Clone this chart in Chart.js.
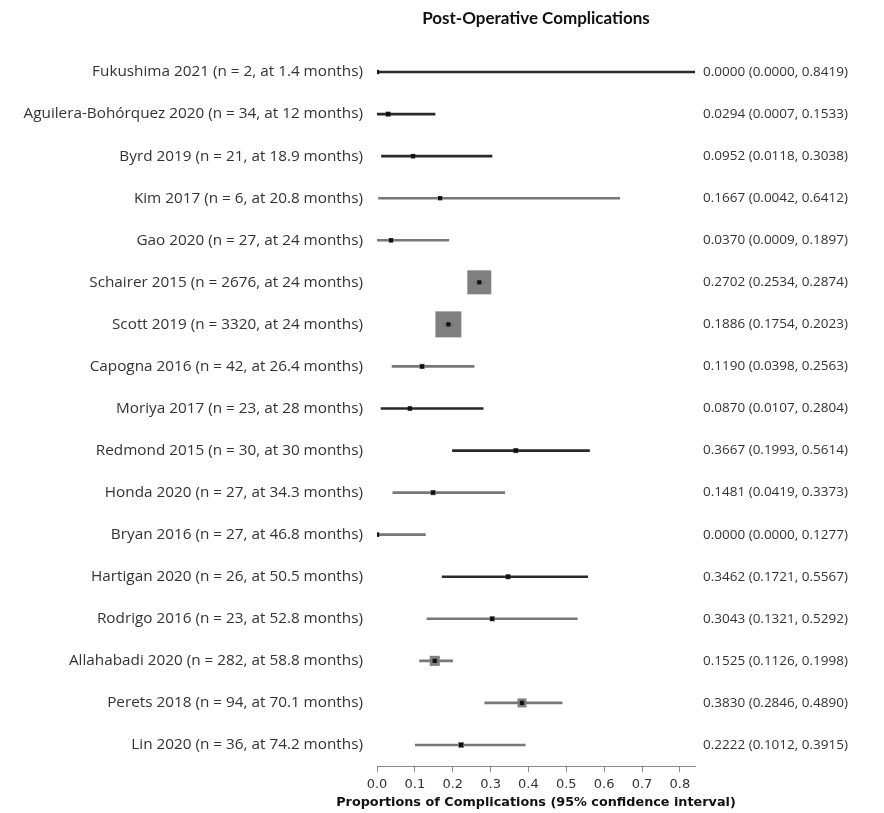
<!DOCTYPE html>
<html><head><meta charset="utf-8">
<script src="https://cdn.jsdelivr.net/npm/chart.js@4.4.0/dist/chart.umd.min.js"></script>
<style>html,body{margin:0;padding:0;background:#fff}</style>
</head><body>
<canvas id="c" width="884" height="813"></canvas>
<script>
// ---- data ----
const studyNames = ["Fukushima 2021","Aguilera-Bohórquez 2020","Byrd 2019","Kim 2017","Gao 2020","Schairer 2015","Scott 2019","Capogna 2016","Moriya 2017","Redmond 2015","Honda 2020","Bryan 2016","Hartigan 2020","Rodrigo 2016","Allahabadi 2020","Perets 2018","Lin 2020"];
const sampleSizes = [2,34,21,6,27,2676,3320,42,23,30,27,27,26,23,282,94,36];
const followUpMonths = ["1.4","12","18.9","20.8","24","24","24","26.4","28","30","34.3","46.8","50.5","52.8","58.8","70.1","74.2"];
const estimates = [0.0000,0.0294,0.0952,0.1667,0.0370,0.2702,0.1886,0.1190,0.0870,0.3667,0.1481,0.0000,0.3462,0.3043,0.1525,0.3830,0.2222];
const lowerCI = [0.0000,0.0007,0.0118,0.0042,0.0009,0.2534,0.1754,0.0398,0.0107,0.1993,0.0419,0.0000,0.1721,0.1321,0.1126,0.2846,0.1012];
const upperCI = [0.8419,0.1533,0.3038,0.6412,0.1897,0.2874,0.2023,0.2563,0.2804,0.5614,0.3373,0.1277,0.5567,0.5292,0.1998,0.4890,0.3915];
const relWeights = [2,4,3,2,3,85,100,4,3,4,4,3,4,4,15,12,5];
const xTickValues = [0,0.1,0.2,0.3,0.4,0.5,0.6,0.7,0.8];
const chartTitle = 'Post-Operative Complications';
const xAxisTitle = 'Proportions of Complications (95% confidence interval)';

const leftLabels = studyNames.map((s,i)=>`${s} (n = ${sampleSizes[i]}, at ${followUpMonths[i]} months)`);
const rightLabels = estimates.map((e,i)=>`${e.toFixed(4)} (${lowerCI[i].toFixed(4)}, ${upperCI[i].toFixed(4)})`);

// ---- styling ----
const darkRows = [0,1,2,8,9,12];
const ciColors = estimates.map((_,i)=>darkRows.includes(i)?'#2a2a2a':'#777777');
const wMax = Math.max(...relWeights);
const squareRadii = relWeights.map(w => (26*Math.sqrt(w/wMax))/Math.SQRT2);

// axis title centred under the plot area, not clipped to its width
const axisTitlePlugin = {
  id:'axisTitle',
  afterDraw(chart){
    const {ctx, chartArea} = chart;
    ctx.save();
    ctx.font = 'bold 12.8px "DejaVu Sans"';
    ctx.fillStyle = '#111';
    ctx.textAlign = 'center';
    ctx.textBaseline = 'middle';
    ctx.fillText(xAxisTitle, (chartArea.left + chartArea.right)/2, 803);
    ctx.restore();
  }
};

new Chart(document.getElementById('c'), {
  type:'bar',
  data:{
    labels: leftLabels,
    datasets:[
      {type:'line', indexAxis:'y', data: estimates, showLine:false, pointStyle:'rect',
       pointRadius: squareRadii, pointBackgroundColor:'#808080', pointBorderWidth:0, pointBorderColor:'rgba(0,0,0,0)', order:3, xAxisID:'x', yAxisID:'y'},
      {type:'bar', indexAxis:'y', data: lowerCI.map((l,i)=>[l, upperCI[i]]), barThickness:2,
       backgroundColor: ciColors, borderWidth:0, order:2, xAxisID:'x', yAxisID:'y'},
      {type:'line', indexAxis:'y', data: estimates, showLine:false, pointStyle:'rect',
       pointRadius: 3, pointBackgroundColor:'#111', pointBorderWidth:0, pointBorderColor:'rgba(0,0,0,0)', order:1, xAxisID:'x', yAxisID:'y'}
    ]
  },
  plugins:[axisTitlePlugin],
  options:{
    responsive:false, animation:false, indexAxis:'y', devicePixelRatio:1,
    layout:{padding:0},
    plugins:{legend:{display:false}, tooltip:{enabled:false}, title:{display:false}},
    scales:{
      x:{type:'linear', position:'bottom', min:0, max:0.84,
        afterBuildTicks: s => { s.ticks = xTickValues.map(v=>({value:v})); },
        afterFit: s => { s.height = 47; },
        grid:{drawOnChartArea:false, drawTicks:true, tickLength:6, color:'#8a8a8a', lineWidth:1},
        border:{display:true, color:'#8a8a8a', width:1},
        ticks:{callback: v => Number(v).toFixed(1), font:{family:'DejaVu Sans', size:13}, color:'#333', padding:5, maxRotation:0, autoSkip:false},
        title:{display:false}
      },
      xTop:{type:'linear', position:'top', min:0, max:1, display:true,
        afterFit: s => { s.height = 51; },
        grid:{display:false}, border:{display:false}, ticks:{display:false},
        title:{display:true, text:chartTitle, font:{family:'Lato', size:17, weight:'bold'}, color:'#111', padding:{top:8,bottom:0}}
      },
      y:{type:'category', position:'left', offset:true,
        afterFit: s => { s.width = 377; },
        grid:{display:false, drawTicks:false}, border:{display:false},
        ticks:{font:{family:'Open Sans', size:15.3}, color:'#333', padding:14, autoSkip:false}
      },
      y2:{type:'category', position:'right', offset:true, labels: rightLabels, display:true,
        afterFit: s => { s.width = 189; },
        grid:{display:false, drawTicks:false}, border:{display:false},
        ticks:{font:{family:'Open Sans', size:13.5}, color:'#333', padding:8, autoSkip:false}
      }
    }
  }
});
</script>
</body></html>
